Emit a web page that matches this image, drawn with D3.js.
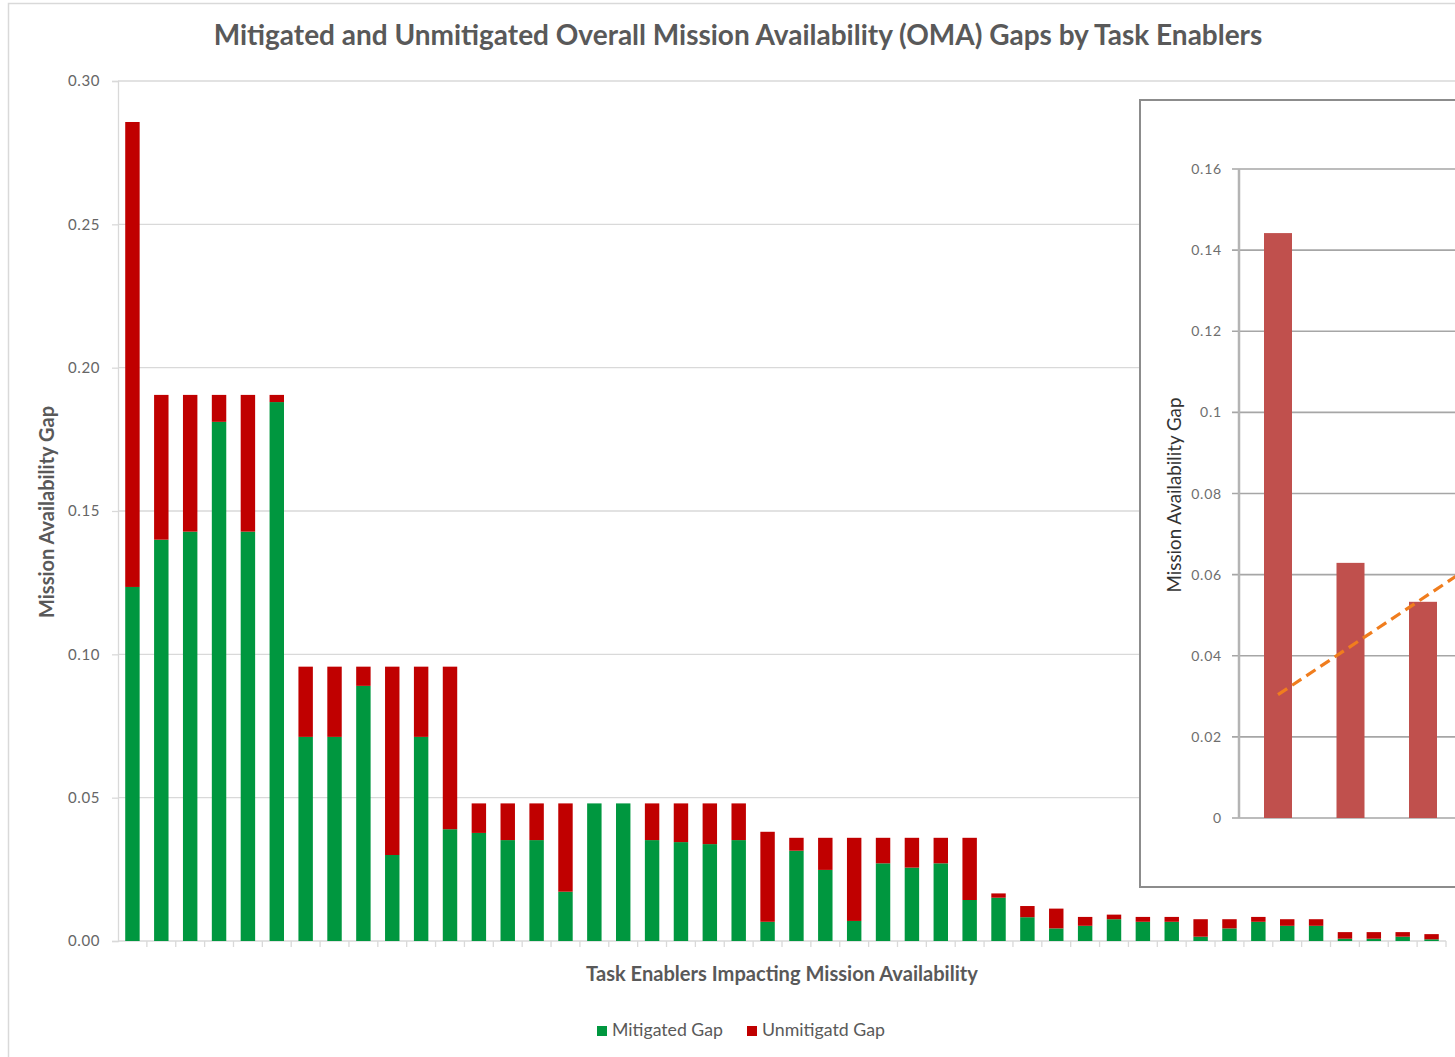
<!DOCTYPE html>
<html>
<head>
<meta charset="utf-8">
<script src="https://cdn.jsdelivr.net/npm/d3@7"></script>
<style>
  html, body { margin: 0; padding: 0; background: #fff; overflow: hidden; }
  svg { display: block; }
  text { font-family: Lato, "Open Sans", sans-serif; }
</style>
</head>
<body>
<script>
// ---- Main chart data: OMA gap per task enabler, split into mitigated / unmitigated parts
const categories = d3.range(1, 47).map(d => "TE" + d);
const mitigated = [
  0.1235, 0.1400, 0.1428, 0.1811, 0.1428, 0.1880,
  0.0712, 0.0712, 0.0890, 0.0300, 0.0712, 0.0390,
  0.0377, 0.0352, 0.0352, 0.0172, 0.0480, 0.0480, 0.0352, 0.0345, 0.0338, 0.0352,
  0.0067, 0.0315, 0.0248, 0.0070, 0.0271, 0.0256, 0.0271, 0.0143,
  0.0151, 0.0083, 0.0044, 0.0053, 0.0076, 0.0067, 0.0067, 0.0015, 0.0044,
  0.0067, 0.0053, 0.0053, 0.0008, 0.0008, 0.0015, 0.0006
];
const unmitigated = [
  0.1622, 0.0505, 0.0477, 0.0094, 0.0477, 0.0025,
  0.0245, 0.0245, 0.0067, 0.0657, 0.0245, 0.0567,
  0.0103, 0.0128, 0.0128, 0.0308, 0.0000, 0.0000, 0.0128, 0.0135, 0.0142, 0.0128,
  0.0314, 0.0045, 0.0112, 0.0290, 0.0089, 0.0104, 0.0089, 0.0217,
  0.0015, 0.0039, 0.0069, 0.0031, 0.0016, 0.0017, 0.0017, 0.0061, 0.0032,
  0.0017, 0.0023, 0.0023, 0.0023, 0.0023, 0.0016, 0.0018
];
const seriesNames = ["Mitigated Gap", "Unmitigatd Gap"];
const yTicks = [0, 0.05, 0.10, 0.15, 0.20, 0.25, 0.30];

// ---- Inset chart data
const insetValues = [0.1442, 0.0629, 0.0533];
const insetTrendIndex = [0, 3];
const insetTrendValues = [0.0304, 0.0661];
const insetTicks = [0, 0.02, 0.04, 0.06, 0.08, 0.1, 0.12, 0.14, 0.16];
const insetTickLabels = ["0", "0.02", "0.04", "0.06", "0.08", "0.1", "0.12", "0.14", "0.16"];

const W = 1455, H = 1057;
const GREEN = "#00973F", RED = "#C00000", TEXT = "#595959", GRID = "#D9D9D9";

const svg = d3.select("body").append("svg").attr("width", W).attr("height", H);

// fit a text element to a given width by adjusting its font size
function fit(sel, width) {
  const fs = parseFloat(sel.attr("font-size"));
  const w = sel.node().getComputedTextLength();
  sel.attr("font-size", (fs * width / w).toFixed(2));
  return sel;
}

// chart area border
svg.append("rect").attr("x", 8.5).attr("y", 3.5).attr("width", W).attr("height", H)
  .attr("fill", "#fff").attr("stroke", GRID).attr("stroke-width", 1.5);

// ---- scales
const plot = { left: 118, right: 1446, top: 81, bottom: 941 };
const x = d3.scaleBand().domain(categories).range([plot.left, plot.right])
  .paddingInner(0.5).paddingOuter(0.25);
const y = d3.scaleLinear().domain([0, 0.30]).range([plot.bottom, plot.top]);

// gridlines
svg.append("g").selectAll("line").data(yTicks.slice(1)).join("line")
  .attr("x1", plot.left).attr("x2", W)
  .attr("y1", d => y(d)).attr("y2", d => y(d))
  .attr("stroke", GRID).attr("stroke-width", 1.3);

// y axis
const yAxis = svg.append("g").attr("transform", `translate(${plot.left},0)`)
  .call(d3.axisLeft(y).tickValues(yTicks).tickFormat(d3.format(".2f")).tickSize(6).tickPadding(12));
yAxis.select(".domain").attr("stroke", GRID).attr("stroke-width", 1.3);
yAxis.selectAll(".tick line").attr("stroke", GRID).attr("stroke-width", 1.3);
yAxis.selectAll(".tick text").attr("fill", "#666").attr("font-size", 15)
  .attr("letter-spacing", 0.6).attr("font-family", "Lato, sans-serif");

// x axis with ticks at category boundaries
const step = x.step();
const xAxis = svg.append("g").attr("transform", `translate(0,${plot.bottom})`);
xAxis.append("line").attr("x1", plot.left).attr("x2", plot.right)
  .attr("stroke", GRID).attr("stroke-width", 1.3);
xAxis.selectAll(".tb").data(categories).join("line").attr("class", "tb")
  .attr("x1", d => x(d) + x.bandwidth() / 2 + step / 2)
  .attr("x2", d => x(d) + x.bandwidth() / 2 + step / 2)
  .attr("y1", 0).attr("y2", 6).attr("stroke", GRID).attr("stroke-width", 1.3);

// stacked bars
const table = categories.map((c, i) => ({ cat: c, m: mitigated[i], u: unmitigated[i] }));
const stacked = d3.stack().keys(["m", "u"])(table);
const colors = [GREEN, RED];
svg.append("g").selectAll("g").data(stacked).join("g")
  .attr("fill", (d, i) => colors[i])
  .selectAll("rect").data(d => d).join("rect")
  .attr("x", d => x(d.data.cat))
  .attr("width", x.bandwidth())
  .attr("y", d => y(d[1]))
  .attr("height", d => Math.max(0, y(d[0]) - y(d[1])));

// title
fit(svg.append("text").attr("x", 738).attr("y", 45).attr("text-anchor", "middle")
  .attr("font-size", 26).attr("font-weight", 700).attr("fill", TEXT)
  .text("Mitigated and Unmitigated Overall Mission Availability (OMA) Gaps by Task Enablers"), 1049);

// axis titles
fit(svg.append("text").attr("transform", "translate(54,512) rotate(-90)").attr("text-anchor", "middle")
  .attr("font-size", 16).attr("font-weight", 700).attr("fill", TEXT)
  .text("Mission Availability Gap"), 212);
fit(svg.append("text").attr("x", 782).attr("y", 981).attr("text-anchor", "middle")
  .attr("font-size", 17).attr("font-weight", 700).attr("fill", TEXT)
  .text("Task Enablers Impacting Mission Availability"), 392);

// legend
const legendX = [597, 747];
const legendW = [111, 123];
const legend = svg.append("g").selectAll("g").data(seriesNames).join("g")
  .attr("transform", (d, i) => `translate(${legendX[i]},1026)`);
legend.append("rect").attr("width", 10).attr("height", 10).attr("fill", (d, i) => colors[i]);
legend.append("text").attr("x", 15).attr("y", 10).attr("font-size", 16).attr("fill", TEXT)
  .text(d => d).each(function (d, i) { fit(d3.select(this), legendW[i]); });

// ---- inset chart
const inset = svg.append("g");
inset.append("rect").attr("x", 1140).attr("y", 100).attr("width", 400).attr("height", 787)
  .attr("fill", "#fff").attr("stroke", "#8C8C8C").attr("stroke-width", 2);

const yI = d3.scaleLinear().domain([0, 0.16]).range([818, 169]);
const xI = d3.scaleLinear().domain([0, 1]).range([1278, 1350.5]);
const IGRID = "#A6A6A6";

inset.append("g").selectAll("line").data(insetTicks).join("line")
  .attr("x1", 1232).attr("x2", W)
  .attr("y1", d => yI(d)).attr("y2", d => yI(d))
  .attr("stroke", IGRID).attr("stroke-width", 1.6);
inset.append("line").attr("x1", 1239).attr("x2", 1239).attr("y1", yI(0.16)).attr("y2", yI(0))
  .attr("stroke", "#B4B4B4").attr("stroke-width", 2.5);
inset.append("g").selectAll("text").data(insetTicks).join("text")
  .attr("x", 1222).attr("y", d => yI(d) + 5).attr("text-anchor", "end")
  .attr("font-size", 14).attr("fill", "#6E6E6E").attr("letter-spacing", 0.8)
  .text((d, i) => insetTickLabels[i]);
fit(inset.append("text").attr("transform", "translate(1181,495) rotate(-90)").attr("text-anchor", "middle")
  .attr("font-size", 13).attr("fill", "#333").text("Mission Availability Gap"), 195);

inset.append("g").selectAll("rect").data(insetValues).join("rect")
  .attr("x", (d, i) => xI(i) - 14).attr("width", 28)
  .attr("y", d => yI(d)).attr("height", d => yI(0) - yI(d))
  .attr("fill", "#C0504D");

inset.append("path")
  .datum(insetTrendIndex.map((t, i) => [t, insetTrendValues[i]]))
  .attr("d", d3.line().x(d => xI(d[0])).y(d => yI(d[1])))
  .attr("fill", "none").attr("stroke", "#F07D1E").attr("stroke-width", 3.2)
  .attr("stroke-dasharray", "11,6");
</script>
</body>
</html>
